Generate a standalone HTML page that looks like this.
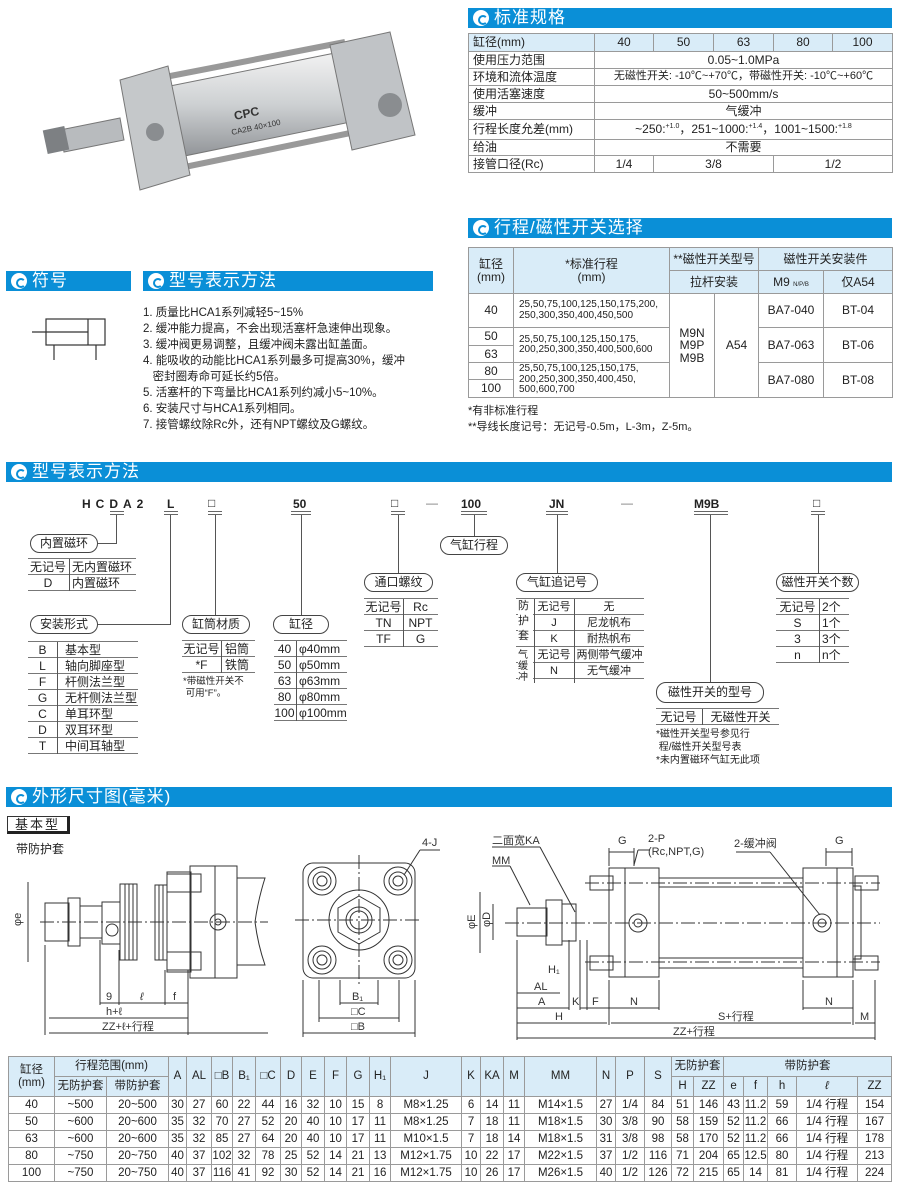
<!DOCTYPE html>
<html><head><meta charset="utf-8">
<style>
*{margin:0;padding:0;box-sizing:border-box}
body{width:900px;height:1187px;background:#fff;position:relative;overflow:hidden;font-family:"Liberation Sans","Noto Sans CJK SC",sans-serif;color:#222;font-size:12px}
.a{position:absolute;white-space:nowrap}
.bar{position:absolute;height:20px;background:#0a8fd7;color:#fff;font-size:17px;line-height:20px;padding-left:26px;letter-spacing:1px}
.bar:before{content:"";position:absolute;left:5px;top:2px;width:16px;height:16px;border-radius:50%;background:#fff}
.bar:after{content:"";position:absolute;left:10px;top:7px;width:6px;height:6px;border:2px solid #0a8fd7;border-right-color:#fff;border-radius:50%}
table{position:absolute;border-collapse:collapse;table-layout:fixed}
td{border:1px solid #9a9a9a;text-align:center;padding:0;font-size:12px;line-height:1.05;white-space:nowrap;overflow:hidden}
.t1 td:first-child{text-align:left;padding-left:4px}
.hd td{background:#d9ecf8}
.bt td{font-size:11.5px}
.pill{position:absolute;border:1px solid #444;border-radius:10px;text-align:center;font-size:12px;line-height:17px;background:#fff;white-space:nowrap}
.ln{position:absolute;background:#555}
.mt{position:absolute;font-size:12px;white-space:nowrap}
.mt div{border-bottom:1.5px solid #777;height:16px;line-height:16px;position:relative}
.mt span{position:absolute;top:0;text-align:center;white-space:nowrap}
.code{position:absolute;font-weight:bold;font-size:12px;letter-spacing:0}
.dl{position:absolute;height:4px;border-top:1.5px solid #666;border-bottom:1.5px solid #666}
</style></head><body>

<!-- cylinder photo -->
<svg class="a" style="left:0;top:0" width="460" height="200">
<defs><linearGradient id="g1" x1="0" y1="0" x2="0" y2="1"><stop offset="0" stop-color="#f4f4f4"/><stop offset=".5" stop-color="#cdd0d2"/><stop offset="1" stop-color="#8d9094"/></linearGradient></defs>
<polygon points="60,130 120,118 124,140 64,152" fill="#b8bbbe" stroke="#777"/>
<rect x="45" y="128" width="22" height="24" fill="#7d8083" transform="rotate(-12 56 140)"/>
<polygon points="150,90 350,50 370,118 165,160" fill="url(#g1)" stroke="#777"/>
<line x1="160" y1="78" x2="345" y2="42" stroke="#999" stroke-width="6"/>
<line x1="170" y1="170" x2="365" y2="130" stroke="#999" stroke-width="6"/>
<polygon points="120,80 168,66 190,175 140,190" fill="#c5c8ca" stroke="#777"/>
<polygon points="330,45 390,32 415,135 352,150" fill="#c0c3c6" stroke="#777"/>
<circle cx="390" cy="105" r="12" fill="#8a8d90"/>
<circle cx="155" cy="132" r="9" fill="#8a8d90"/>
<text x="235" y="120" font-size="12" font-weight="bold" fill="#333" transform="rotate(-12 235 120)">CPC</text>
<text x="232" y="135" font-size="8" fill="#333" transform="rotate(-12 232 135)">CA2B 40×100</text>
</svg>

<!-- 标准规格 -->
<div class="bar" style="left:468px;top:8px;width:424px">标准规格</div>
<table class="t1" style="left:468px;top:33px;width:424px">
<col style="width:126px"><col style="width:59px"><col style="width:60px"><col style="width:60px"><col style="width:59px"><col style="width:60px">
<tr class="hd" style="height:18px"><td>缸径(mm)</td><td>40</td><td>50</td><td>63</td><td>80</td><td>100</td></tr>
<tr style="height:17px"><td>使用压力范围</td><td colspan="5">0.05~1.0MPa</td></tr>
<tr style="height:17px"><td>环境和流体温度</td><td colspan="5" style="font-size:11px">无磁性开关: -10℃~+70℃，带磁性开关: -10℃~+60℃</td></tr>
<tr style="height:17px"><td>使用活塞速度</td><td colspan="5">50~500mm/s</td></tr>
<tr style="height:17px"><td>缓冲</td><td colspan="5">气缓冲</td></tr>
<tr style="height:20px"><td>行程长度允差(mm)</td><td colspan="5">~250:<sup style="font-size:7px">+1.0</sup>，251~1000:<sup style="font-size:7px">+1.4</sup>，1001~1500:<sup style="font-size:7px">+1.8</sup></td></tr>
<tr style="height:16px"><td>给油</td><td colspan="5">不需要</td></tr>
<tr style="height:17px"><td>接管口径(Rc)</td><td>1/4</td><td colspan="2">3/8</td><td colspan="2">1/2</td></tr>
</table>

<!-- 行程/磁性开关选择 -->
<div class="bar" style="left:468px;top:218px;width:424px">行程/磁性开关选择</div>
<table style="left:468px;top:247px;width:424px">
<col style="width:45px"><col style="width:156px"><col style="width:45px"><col style="width:44px"><col style="width:65px"><col style="width:69px">
<tr class="hd" style="height:23px"><td rowspan="2">缸径<br>(mm)</td><td rowspan="2">*标准行程<br>(mm)</td><td colspan="2">**磁性开关型号</td><td colspan="2">磁性开关安装件</td></tr>
<tr class="hd" style="height:23px"><td colspan="2">拉杆安装</td><td>M9 <span style="font-size:6px">N/P/B</span></td><td>仅A54</td></tr>
<tr style="height:34px"><td>40</td><td style="font-size:10px;text-align:left;padding-left:5px">25,50,75,100,125,150,175,200,<br>250,300,350,400,450,500</td><td rowspan="5">M9N<br>M9P<br>M9B</td><td rowspan="5">A54</td><td>BA7-040</td><td>BT-04</td></tr>
<tr style="height:18px"><td>50</td><td rowspan="2" style="font-size:10px;text-align:left;padding-left:5px">25,50,75,100,125,150,175,<br>200,250,300,350,400,500,600</td><td rowspan="2">BA7-063</td><td rowspan="2">BT-06</td></tr>
<tr style="height:17px"><td>63</td></tr>
<tr style="height:17px"><td>80</td><td rowspan="2" style="font-size:10px;text-align:left;padding-left:5px">25,50,75,100,125,150,175,<br>200,250,300,350,400,450,<br>500,600,700</td><td rowspan="2">BA7-080</td><td rowspan="2">BT-08</td></tr>
<tr style="height:18px"><td>100</td></tr>
</table>
<div class="a" style="left:468px;top:402px;font-size:11px">*有非标准行程</div>
<div class="a" style="left:468px;top:418px;font-size:11px">**导线长度记号：无记号-0.5m，L-3m，Z-5m。</div>

<!-- 符号 -->
<div class="bar" style="left:6px;top:271px;width:125px">符号</div>
<svg class="a" style="left:30px;top:315px" width="80" height="50">
<rect x="16" y="4" width="59" height="26" fill="none" stroke="#333" stroke-width="1.2"/>
<line x1="58" y1="4" x2="58" y2="30" stroke="#333" stroke-width="1.2"/>
<line x1="2" y1="17" x2="58" y2="17" stroke="#333" stroke-width="1.2"/>
<line x1="24" y1="30" x2="24" y2="45" stroke="#333" stroke-width="1.2"/>
<line x1="66" y1="30" x2="66" y2="45" stroke="#333" stroke-width="1.2"/>
</svg>
<div class="bar" style="left:143px;top:271px;width:290px">型号表示方法</div>
<div class="a" style="left:143px;top:305px;font-size:11.5px;line-height:16px">1. 质量比HCA1系列减轻5~15%<br>2. 缓冲能力提高，不会出现活塞杆急速伸出现象。<br>3. 缓冲阀更易调整，且缓冲阀未露出缸盖面。<br>4. 能吸收的动能比HCA1系列最多可提高30%，缓冲<br>&nbsp;&nbsp;&nbsp;密封圈寿命可延长约5倍。<br>5. 活塞杆的下弯量比HCA1系列约减小5~10%。<br>6. 安装尺寸与HCA1系列相同。<br>7. 接管螺纹除Rc外，还有NPT螺纹及G螺纹。</div>

<!-- 型号表示方法 -->
<div class="bar" style="left:6px;top:462px;width:886px">型号表示方法</div>
<div class="code" style="left:82px;top:497px;letter-spacing:5px">HCDA2</div>
<div class="code" style="left:167px;top:497px">L</div>
<div class="code" style="left:208px;top:496px;font-weight:normal">□</div>
<div class="code" style="left:293px;top:497px">50</div>
<div class="code" style="left:391px;top:496px;font-weight:normal">□</div>
<div class="code" style="left:426px;top:496px;font-weight:normal;color:#777">—</div>
<div class="code" style="left:461px;top:497px">100</div>
<div class="code" style="left:549px;top:497px">JN</div>
<div class="code" style="left:621px;top:496px;font-weight:normal;color:#777">—</div>
<div class="code" style="left:694px;top:497px">M9B</div>
<div class="code" style="left:813px;top:496px;font-weight:normal">□</div>
<div class="dl" style="left:110px;top:511px;width:14px"></div>
<div class="dl" style="left:164px;top:511px;width:14px"></div>
<div class="dl" style="left:208px;top:511px;width:14px"></div>
<div class="dl" style="left:291px;top:511px;width:20px"></div>
<div class="dl" style="left:391px;top:511px;width:14px"></div>
<div class="dl" style="left:461px;top:511px;width:26px"></div>
<div class="dl" style="left:546px;top:511px;width:22px"></div>
<div class="dl" style="left:694px;top:511px;width:34px"></div>
<div class="dl" style="left:811px;top:511px;width:14px"></div>
<div class="ln" style="left:116px;top:515px;width:1px;height:29px"></div>
<div class="ln" style="left:98px;top:543px;width:19px;height:1px"></div>
<div class="ln" style="left:170px;top:515px;width:1px;height:110px"></div>
<div class="ln" style="left:98px;top:624px;width:73px;height:1px"></div>
<div class="ln" style="left:215px;top:515px;width:1px;height:100px"></div>
<div class="ln" style="left:301px;top:515px;width:1px;height:100px"></div>
<div class="ln" style="left:398px;top:515px;width:1px;height:58px"></div>
<div class="ln" style="left:474px;top:515px;width:1px;height:21px"></div>
<div class="ln" style="left:557px;top:515px;width:1px;height:58px"></div>
<div class="ln" style="left:710px;top:515px;width:1px;height:167px"></div>
<div class="ln" style="left:818px;top:515px;width:1px;height:58px"></div>

<div class="pill" style="left:30px;top:534px;width:68px;height:19px">内置磁环</div>
<div class="mt" style="left:28px;top:558px;width:108px;border-top:1.5px solid #777">
<div><span style="left:0;width:40px">无记号</span><span style="left:44px">无内置磁环</span></div>
<div><span style="left:0;width:40px">D</span><span style="left:44px">内置磁环</span></div>
<b class="ln" style="left:41px;top:0;width:1px;height:32px"></b></div>

<div class="pill" style="left:30px;top:615px;width:68px;height:19px">安装形式</div>
<div class="mt" style="left:28px;top:641px;width:110px;border-top:1.5px solid #777">
<div><span style="left:0;width:29px">B</span><span style="left:37px">基本型</span></div>
<div><span style="left:0;width:29px">L</span><span style="left:37px">轴向脚座型</span></div>
<div><span style="left:0;width:29px">F</span><span style="left:37px">杆侧法兰型</span></div>
<div><span style="left:0;width:29px">G</span><span style="left:37px">无杆侧法兰型</span></div>
<div><span style="left:0;width:29px">C</span><span style="left:37px">单耳环型</span></div>
<div><span style="left:0;width:29px">D</span><span style="left:37px">双耳环型</span></div>
<div><span style="left:0;width:29px">T</span><span style="left:37px">中间耳轴型</span></div>
<b class="ln" style="left:29px;top:0;width:1px;height:112px"></b></div>

<div class="pill" style="left:182px;top:615px;width:68px;height:19px">缸筒材质</div>
<div class="mt" style="left:182px;top:640px;width:73px;border-top:1.5px solid #777">
<div><span style="left:0;width:39px">无记号</span><span style="left:43px">铝筒</span></div>
<div><span style="left:0;width:39px">*F</span><span style="left:43px">铁筒</span></div>
<b class="ln" style="left:39px;top:0;width:1px;height:32px"></b></div>
<div class="a" style="left:183px;top:676px;font-size:9.5px;line-height:12px">*带磁性开关不<br>&nbsp;可用“F”。</div>

<div class="pill" style="left:273px;top:615px;width:56px;height:19px">缸径</div>
<div class="mt" style="left:274px;top:640px;width:73px;border-top:1.5px solid #777">
<div><span style="left:0;width:21px">40</span><span style="left:25px">φ40mm</span></div>
<div><span style="left:0;width:21px">50</span><span style="left:25px">φ50mm</span></div>
<div><span style="left:0;width:21px">63</span><span style="left:25px">φ63mm</span></div>
<div><span style="left:0;width:21px">80</span><span style="left:25px">φ80mm</span></div>
<div><span style="left:0;width:21px">100</span><span style="left:25px">φ100mm</span></div>
<b class="ln" style="left:22px;top:0;width:1px;height:80px"></b></div>

<div class="pill" style="left:364px;top:573px;width:69px;height:19px">通口螺纹</div>
<div class="mt" style="left:364px;top:598px;width:74px;border-top:1.5px solid #777">
<div><span style="left:0;width:39px">无记号</span><span style="left:39px;width:35px">Rc</span></div>
<div><span style="left:0;width:39px">TN</span><span style="left:39px;width:35px">NPT</span></div>
<div><span style="left:0;width:39px">TF</span><span style="left:39px;width:35px">G</span></div>
<b class="ln" style="left:39px;top:0;width:1px;height:48px"></b></div>

<div class="pill" style="left:440px;top:536px;width:68px;height:19px">气缸行程</div>

<div class="pill" style="left:516px;top:573px;width:82px;height:19px">气缸追记号</div>
<div class="mt" style="left:516px;top:598px;width:128px;border-top:1.5px solid #777;font-size:11px">
<div><span style="left:18px;width:40px">无记号</span><span style="left:58px;width:70px">无</span></div>
<div><span style="left:18px;width:40px">J</span><span style="left:58px;width:70px">尼龙帆布</span></div>
<div><span style="left:18px;width:40px">K</span><span style="left:58px;width:70px">耐热帆布</span></div>
<div><span style="left:18px;width:40px">无记号</span><span style="left:59px;width:69px">两侧带气缓冲</span></div>
<div><span style="left:18px;width:40px">N</span><span style="left:58px;width:70px">无气缓冲</span></div>
<b class="ln" style="left:18px;top:0;width:1px;height:84px"></b><b class="ln" style="left:58px;top:0;width:1px;height:84px"></b>
<i class="a" style="left:2px;top:0;font-style:normal;font-size:11px;line-height:15px;background:#fff;width:15px">防<br>护<br>套</i>
<i class="a" style="left:2px;top:51px;font-style:normal;font-size:10px;line-height:11px;background:#fff;width:15px">气<br>缓<br>冲</i></div>

<div class="pill" style="left:656px;top:682px;width:108px;height:21px;line-height:19px">磁性开关的型号</div>
<div class="mt" style="left:656px;top:708px;width:123px;border-top:1.5px solid #777">
<div><span style="left:0;width:45px">无记号</span><span style="left:46px;width:77px">无磁性开关</span></div>
<b class="ln" style="left:46px;top:0;width:1px;height:16px"></b></div>
<div class="a" style="left:656px;top:728px;font-size:10px;line-height:13px">*磁性开关型号参见行<br>&nbsp;程/磁性开关型号表<br>*未内置磁环气缸无此项</div>

<div class="pill" style="left:776px;top:573px;width:83px;height:19px">磁性开关个数</div>
<div class="mt" style="left:776px;top:598px;width:73px;border-top:1.5px solid #777">
<div><span style="left:0;width:43px">无记号</span><span style="left:46px">2个</span></div>
<div><span style="left:0;width:43px">S</span><span style="left:46px">1个</span></div>
<div><span style="left:0;width:43px">3</span><span style="left:46px">3个</span></div>
<div><span style="left:0;width:43px">n</span><span style="left:46px">n个</span></div>
<b class="ln" style="left:43px;top:0;width:1px;height:64px"></b></div>

<!-- 外形尺寸图 -->
<div class="bar" style="left:6px;top:787px;width:886px">外形尺寸图(毫米)</div>
<div class="a" style="left:7px;top:816px;width:63px;height:18px;border:1px solid #333;border-right:3px solid #222;border-bottom:3px solid #222;text-align:center;line-height:15px;font-size:13px;letter-spacing:2px">基本型</div>
<div class="a" style="left:16px;top:840px;font-size:12px">带防护套</div>

<svg class="a" style="left:0;top:830px" width="900" height="220" font-family="Liberation Sans,Noto Sans CJK SC,sans-serif" font-size="11" fill="none" stroke="#333" stroke-width="1">
<g>
<line x1="40" y1="92" x2="268" y2="92" stroke-dasharray="14,3,2,3"/>
<rect x="45" y="73" width="24" height="38"/>
<rect x="68" y="68" width="12" height="48"/>
<rect x="80" y="76" width="22" height="32"/>
<rect x="102" y="72" width="18" height="42"/>
<circle cx="112" cy="100" r="6"/>
<rect x="120" y="54" width="17" height="76"/>
<line x1="125" y1="54" x2="125" y2="130"/><line x1="129" y1="54" x2="129" y2="130"/><line x1="133" y1="54" x2="133" y2="130"/>
<rect x="155" y="55" width="12" height="75"/>
<line x1="159" y1="55" x2="159" y2="130"/><line x1="163" y1="55" x2="163" y2="130"/>
<rect x="167" y="42" width="24" height="100"/>
<rect x="167" y="44" width="34" height="18"/><rect x="167" y="122" width="34" height="18"/>
<rect x="190" y="36" width="47" height="112"/>
<line x1="215" y1="36" x2="215" y2="148"/>
<circle cx="218" cy="92" r="8"/><circle cx="218" cy="92" r="3"/>
<path d="M237 48 H265 Q258 70 255 92 Q258 115 265 135 H237"/>
<line x1="28" y1="52" x2="28" y2="132"/>
<text x="14" y="95" fill="#333" stroke="none" transform="rotate(-90 18 92)">φe</text>
<line x1="100" y1="110" x2="100" y2="175"/><line x1="119" y1="120" x2="119" y2="175"/><line x1="165" y1="140" x2="165" y2="175"/><line x1="188" y1="140" x2="188" y2="205"/><line x1="45" y1="115" x2="45" y2="205"/>
<line x1="100" y1="173" x2="188" y2="173"/><line x1="49" y1="188" x2="188" y2="188"/><line x1="49" y1="203" x2="268" y2="203"/>
<g fill="#333" stroke="none"><text x="106" y="170">9</text><text x="140" y="170" font-style="italic">ℓ</text><text x="173" y="170">f</text><text x="106" y="185">h+ℓ</text><text x="102" y="200">ZZ+ℓ+行程</text></g>
</g>
<g>
<rect x="303" y="33" width="112" height="115" rx="10"/>
<line x1="295" y1="90" x2="421" y2="90" stroke-dasharray="14,3,2,3"/>
<line x1="359" y1="25" x2="359" y2="155" stroke-dasharray="14,3,2,3"/>
<circle cx="359" cy="90" r="30"/>
<polygon points="359,66 380,78 380,102 359,114 338,102 338,78"/>
<circle cx="359" cy="90" r="13"/><circle cx="359" cy="90" r="9"/>
<g><circle cx="322" cy="51" r="14"/><circle cx="322" cy="51" r="9"/><circle cx="322" cy="51" r="5"/>
<circle cx="398" cy="51" r="14"/><circle cx="398" cy="51" r="9"/><circle cx="398" cy="51" r="5"/>
<circle cx="322" cy="130" r="14"/><circle cx="322" cy="130" r="9"/><circle cx="322" cy="130" r="5"/>
<circle cx="398" cy="130" r="14"/><circle cx="398" cy="130" r="9"/><circle cx="398" cy="130" r="5"/></g>
<line x1="404" y1="45" x2="420" y2="20"/><line x1="420" y1="20" x2="440" y2="20"/>
<text x="422" y="16" fill="#333" stroke="none">4-J</text>
<line x1="340" y1="150" x2="340" y2="175"/><line x1="378" y1="150" x2="378" y2="175"/><line x1="319" y1="150" x2="319" y2="192"/><line x1="399" y1="150" x2="399" y2="192"/><line x1="303" y1="150" x2="303" y2="207"/><line x1="415" y1="150" x2="415" y2="207"/>
<line x1="340" y1="173" x2="378" y2="173"/><line x1="319" y1="188" x2="399" y2="188"/><line x1="303" y1="203" x2="415" y2="203"/>
<g fill="#333" stroke="none"><text x="352" y="170">B₁</text><text x="351" y="185">□C</text><text x="351" y="200">□B</text></g>
</g>
<g>
<line x1="505" y1="93" x2="880" y2="93" stroke-dasharray="14,3,2,3"/>
<line x1="585" y1="53" x2="880" y2="53" stroke-dasharray="14,3,2,3"/>
<line x1="585" y1="132" x2="880" y2="132" stroke-dasharray="14,3,2,3"/>
<rect x="517" y="78" width="30" height="28"/>
<rect x="546" y="70" width="16" height="45"/>
<rect x="562" y="74" width="14" height="37"/>
<rect x="590" y="46" width="23" height="14"/><rect x="590" y="126" width="23" height="14"/>
<rect x="855" y="46" width="23" height="14"/><rect x="855" y="126" width="23" height="14"/>
<rect x="609" y="38" width="50" height="109"/>
<rect x="609" y="38" width="16" height="109"/>
<rect x="659" y="48" width="144" height="90"/>
<line x1="659" y1="57" x2="803" y2="57"/><line x1="659" y1="128" x2="803" y2="128"/>
<rect x="803" y="38" width="50" height="109"/>
<rect x="837" y="38" width="16" height="109"/>
<rect x="853" y="56" width="8" height="73"/>
<circle cx="638" cy="93" r="9"/><circle cx="638" cy="93" r="4"/>
<circle cx="822" cy="93" r="9"/><circle cx="822" cy="93" r="4"/>
<line x1="492" y1="17" x2="540" y2="17"/><line x1="540" y1="17" x2="575" y2="82"/>
<line x1="492" y1="36" x2="510" y2="36"/><line x1="510" y1="36" x2="530" y2="75"/>
<line x1="736" y1="22" x2="770" y2="22"/><line x1="770" y1="22" x2="820" y2="85"/>
<line x1="638" y1="20" x2="650" y2="20"/><line x1="638" y1="20" x2="634" y2="35"/>
<line x1="609" y1="18" x2="609" y2="36"/><line x1="634" y1="18" x2="634" y2="36"/><line x1="609" y1="22" x2="634" y2="22"/>
<line x1="826" y1="18" x2="826" y2="36"/><line x1="852" y1="18" x2="852" y2="36"/><line x1="826" y1="22" x2="852" y2="22"/>
<line x1="480" y1="62" x2="480" y2="123"/><line x1="493" y1="74" x2="493" y2="110"/>
<line x1="517" y1="110" x2="517" y2="210"/><line x1="609" y1="150" x2="609" y2="195"/><line x1="659" y1="150" x2="659" y2="180"/><line x1="803" y1="150" x2="803" y2="180"/><line x1="853" y1="150" x2="853" y2="195"/><line x1="875" y1="150" x2="875" y2="210"/>
<line x1="569" y1="110" x2="569" y2="180"/><line x1="580" y1="110" x2="580" y2="180"/><line x1="587" y1="110" x2="587" y2="180"/>
<line x1="517" y1="163" x2="560" y2="163"/><line x1="517" y1="178" x2="569" y2="178"/><line x1="580" y1="178" x2="609" y2="178"/><line x1="609" y1="178" x2="659" y2="178"/><line x1="803" y1="178" x2="853" y2="178"/>
<line x1="517" y1="193" x2="607" y2="193"/><line x1="611" y1="193" x2="851" y2="193"/><line x1="855" y1="193" x2="875" y2="193"/><line x1="517" y1="208" x2="875" y2="208"/>
<g fill="#333" stroke="none"><text x="492" y="14">二面宽KA</text><text x="492" y="34">MM</text><text x="618" y="14">G</text><text x="648" y="12">2-P</text><text x="648" y="25">(Rc,NPT,G)</text><text x="734" y="17">2-缓冲阀</text><text x="835" y="14">G</text>
<text x="466" y="100" transform="rotate(-90 470 95)">φE</text><text x="481" y="98" transform="rotate(-90 485 93)">φD</text>
<text x="548" y="143">H₁</text><text x="534" y="160">AL</text><text x="538" y="175">A</text><text x="572" y="175">K</text><text x="592" y="175">F</text><text x="630" y="175">N</text><text x="825" y="175">N</text><text x="555" y="190">H</text><text x="718" y="190">S+行程</text><text x="860" y="190">M</text><text x="673" y="205">ZZ+行程</text></g>
</g>
</svg>

<!-- bottom table -->
<table class="bt" style="left:8px;top:1056px;width:884px">
<col style="width:46px"><col style="width:52px"><col style="width:62px"><col style="width:18px"><col style="width:25px"><col style="width:21px"><col style="width:23px"><col style="width:25px"><col style="width:21px"><col style="width:23px"><col style="width:22px"><col style="width:23px"><col style="width:21px"><col style="width:71px"><col style="width:19px"><col style="width:23px"><col style="width:21px"><col style="width:72px"><col style="width:19px"><col style="width:29px"><col style="width:27px"><col style="width:22px"><col style="width:30px"><col style="width:20px"><col style="width:24px"><col style="width:29px"><col style="width:61px"><col style="width:34px">
<tr class="hd" style="height:20px"><td rowspan="2">缸径<br>(mm)</td><td colspan="2">行程范围(mm)</td><td rowspan="2">A</td><td rowspan="2">AL</td><td rowspan="2">□B</td><td rowspan="2">B₁</td><td rowspan="2">□C</td><td rowspan="2">D</td><td rowspan="2">E</td><td rowspan="2">F</td><td rowspan="2">G</td><td rowspan="2">H₁</td><td rowspan="2">J</td><td rowspan="2">K</td><td rowspan="2">KA</td><td rowspan="2">M</td><td rowspan="2">MM</td><td rowspan="2">N</td><td rowspan="2">P</td><td rowspan="2">S</td><td colspan="2">无防护套</td><td colspan="5">带防护套</td></tr>
<tr class="hd" style="height:20px"><td>无防护套</td><td>带防护套</td><td>H</td><td>ZZ</td><td>e</td><td>f</td><td>h</td><td><i>ℓ</i></td><td>ZZ</td></tr>
<tr style="height:17px"><td>40</td><td>~500</td><td>20~500</td><td>30</td><td>27</td><td>60</td><td>22</td><td>44</td><td>16</td><td>32</td><td>10</td><td>15</td><td>8</td><td>M8×1.25</td><td>6</td><td>14</td><td>11</td><td>M14×1.5</td><td>27</td><td>1/4</td><td>84</td><td>51</td><td>146</td><td>43</td><td>11.2</td><td>59</td><td>1/4 行程</td><td>154</td></tr>
<tr style="height:17px"><td>50</td><td>~600</td><td>20~600</td><td>35</td><td>32</td><td>70</td><td>27</td><td>52</td><td>20</td><td>40</td><td>10</td><td>17</td><td>11</td><td>M8×1.25</td><td>7</td><td>18</td><td>11</td><td>M18×1.5</td><td>30</td><td>3/8</td><td>90</td><td>58</td><td>159</td><td>52</td><td>11.2</td><td>66</td><td>1/4 行程</td><td>167</td></tr>
<tr style="height:17px"><td>63</td><td>~600</td><td>20~600</td><td>35</td><td>32</td><td>85</td><td>27</td><td>64</td><td>20</td><td>40</td><td>10</td><td>17</td><td>11</td><td>M10×1.5</td><td>7</td><td>18</td><td>14</td><td>M18×1.5</td><td>31</td><td>3/8</td><td>98</td><td>58</td><td>170</td><td>52</td><td>11.2</td><td>66</td><td>1/4 行程</td><td>178</td></tr>
<tr style="height:17px"><td>80</td><td>~750</td><td>20~750</td><td>40</td><td>37</td><td>102</td><td>32</td><td>78</td><td>25</td><td>52</td><td>14</td><td>21</td><td>13</td><td>M12×1.75</td><td>10</td><td>22</td><td>17</td><td>M22×1.5</td><td>37</td><td>1/2</td><td>116</td><td>71</td><td>204</td><td>65</td><td>12.5</td><td>80</td><td>1/4 行程</td><td>213</td></tr>
<tr style="height:17px"><td>100</td><td>~750</td><td>20~750</td><td>40</td><td>37</td><td>116</td><td>41</td><td>92</td><td>30</td><td>52</td><td>14</td><td>21</td><td>16</td><td>M12×1.75</td><td>10</td><td>26</td><td>17</td><td>M26×1.5</td><td>40</td><td>1/2</td><td>126</td><td>72</td><td>215</td><td>65</td><td>14</td><td>81</td><td>1/4 行程</td><td>224</td></tr>
</table>
</body></html>
